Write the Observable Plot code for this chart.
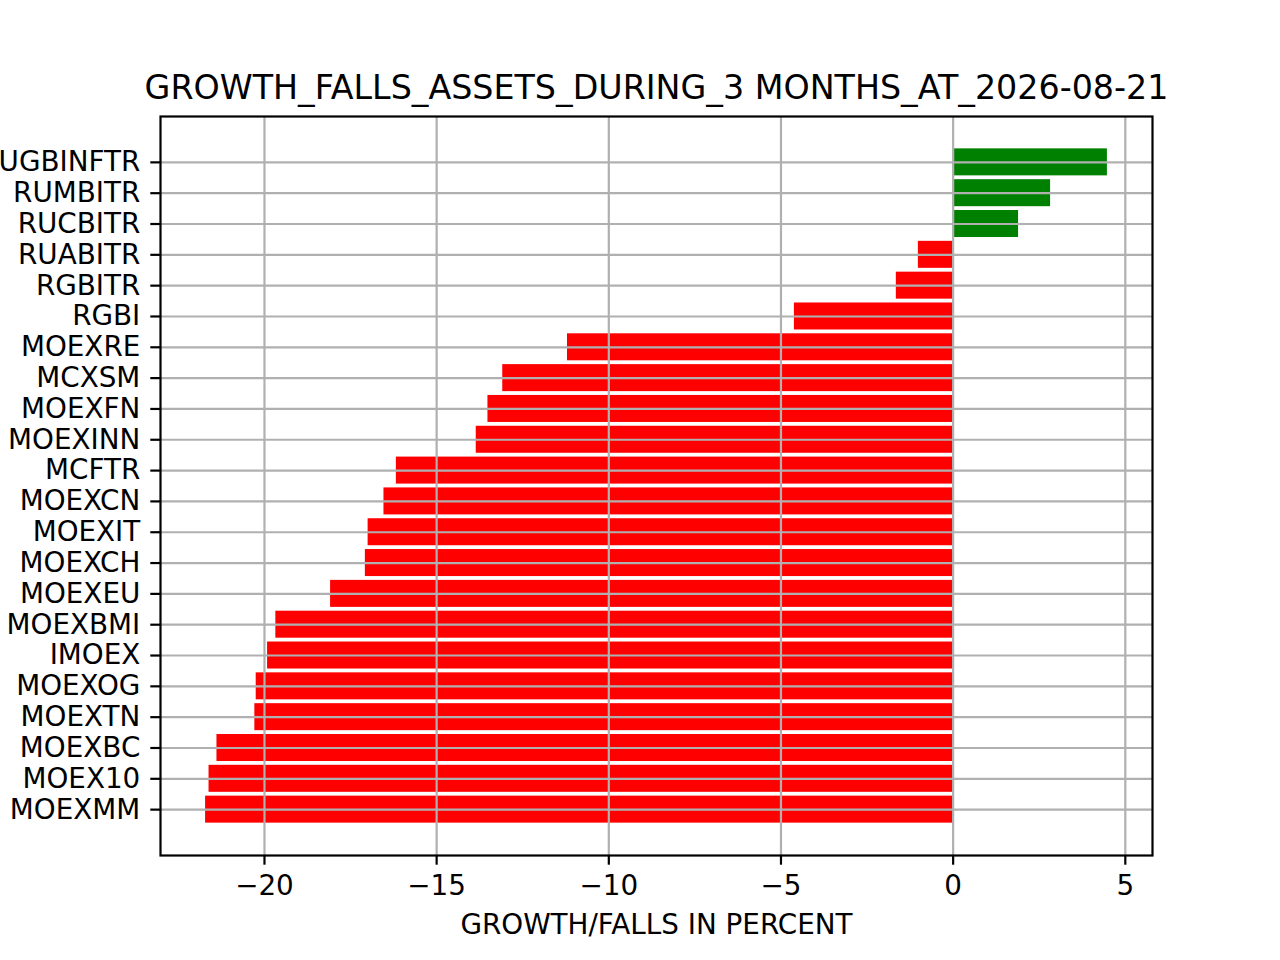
<!DOCTYPE html>
<html>
<head>
<meta charset="utf-8">
<script src="https://cdn.jsdelivr.net/npm/d3@7"></script>
<script src="https://cdn.jsdelivr.net/npm/@observablehq/plot@0.6"></script>
<style>
  html, body { margin: 0; padding: 0; background: #ffffff; }
  #chart { width: 1280px; height: 960px; overflow: hidden; }
</style>
</head>
<body>
<div id="chart"></div>
<script>
const titleText = "GROWTH_FALLS_ASSETS_DURING_3 MONTHS_AT_2026-08-21";
const xLabelText = "GROWTH/FALLS IN PERCENT";

// categories, top to bottom
const names = [
  "RUGBINFTR", "RUMBITR", "RUCBITR", "RUABITR", "RGBITR", "RGBI",
  "MOEXRE", "MCXSM", "MOEXFN", "MOEXINN", "MCFTR", "MOEXCN",
  "MOEXIT", "MOEXCH", "MOEXEU", "MOEXBMI", "IMOEX", "MOEXOG",
  "MOEXTN", "MOEXBC", "MOEX10", "MOEXMM"
];
// growth / falls in percent
const values = [
  4.48, 2.83, 1.90, -1.01, -1.65, -4.61,
  -11.20, -13.08, -13.51, -13.85, -16.17, -16.53,
  -16.99, -17.07, -18.08, -19.67, -19.91, -20.24,
  -20.28, -21.38, -21.61, -21.71
];
const xTicks = [-20, -15, -10, -5, 0, 5];

const data = names.map((name, i) => ({ name, value: values[i], sign: values[i] >= 0 ? "pos" : "neg" }));

const vmin = d3.min(values), vmax = d3.max(values);
const pad = (vmax - vmin) * 0.05;

const FS = 27.8;
const LW = 2.2;
const GRID = "#b0b0b0";
const fmt = d3.format("d");

const chart = Plot.plot({
  width: 1280,
  height: 960,
  marginLeft: 160,
  marginRight: 128,
  marginTop: 116,
  marginBottom: 105,
  style: { fontFamily: "DejaVu Sans", fontSize: FS + "px", color: "#000000", background: "#ffffff" },
  x: { domain: [vmin - pad, vmax + pad], ticks: xTicks },
  y: { domain: names, paddingInner: 0.124, paddingOuter: 1.05, align: 0.5, round: false },
  color: { domain: ["pos", "neg"], range: ["#008000", "#ff0000"] },
  marks: [
    Plot.barX(data, { x: "value", y: "name", fill: "sign" }),
    Plot.gridX(xTicks, { stroke: GRID, strokeOpacity: 1, strokeWidth: LW }),
    Plot.gridY(names, { stroke: GRID, strokeOpacity: 1, strokeWidth: LW }),
    Plot.axisX(xTicks, {
      tickSize: 9.7, tickPadding: 9.7, strokeWidth: LW, fontSize: FS,
      tickFormat: fmt, label: null
    }),
    Plot.axisY(names, {
      tickSize: 9.7, tickPadding: 10.5, strokeWidth: LW, fontSize: FS, label: null
    }),
    Plot.frame({ stroke: "#000000", strokeWidth: LW }),
    Plot.text([titleText], {
      frameAnchor: "top", dy: -28, fontSize: 33.3, fill: "#000000", lineAnchor: "middle"
    }),
    Plot.text([xLabelText], {
      frameAnchor: "bottom", dy: 70, fontSize: FS, fill: "#000000", lineAnchor: "middle"
    })
  ]
});

document.getElementById("chart").appendChild(chart);
</script>
</body>
</html>
